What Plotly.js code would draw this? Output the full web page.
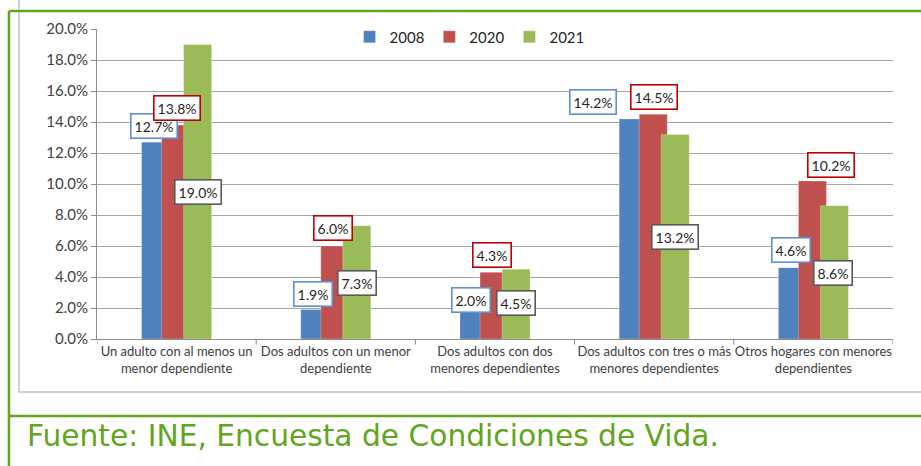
<!DOCTYPE html>
<html>
<head>
<meta charset="utf-8">
<script src="https://cdn.plot.ly/plotly-3.0.1.min.js"></script>
<style>html,body{margin:0;padding:0;background:#fff;}#chart{width:921px;height:466px;}</style>
</head>
<body>
<div id="chart"></div>
<script>
// ---- data ----
const categories = [
  "Un adulto con al menos un<br>menor dependiente",
  "Dos adultos con un menor<br>dependiente",
  "Dos adultos con dos<br>menores dependientes",
  "Dos adultos con tres o más<br>menores dependientes",
  "Otros hogares con menores<br>dependientes"
];
const seriesNames = ["2008", "2020", "2021"];
const values2008 = [12.7, 1.9, 2.0, 14.2, 4.6];
const values2020 = [13.8, 6.0, 4.3, 14.5, 10.2];
const values2021 = [19.0, 7.3, 4.5, 13.2, 8.6];
const sourceText = "Fuente: INE, Encuesta de Condiciones de Vida.";

// ---- styles / layout helpers ----
const colors = ["#4f81bd", "#c0504d", "#9bbb59"];
const labelBorders = ["#5b8fd6", "#c00000", "#595959"];
const barWidth = 0.176;
const barOffsets = [-0.22, -0.094, 0.044];
// label box placement: [dx from category center, y in axis units]
const labelPos = [
  [[-0.142, 13.74], [-0.143, 2.9], [-0.151, 2.52], [-0.384, 15.29], [-0.141, 5.74]],
  [[0.0, 14.9], [-0.018, 7.16], [-0.019, 5.42], [0.0, 15.61], [0.111, 11.23]],
  [[0.134, 9.48], [0.133, 3.61], [0.132, 2.32], [0.131, 6.58], [0.123, 4.26]]
];

const allValues = [values2008, values2020, values2021];
const idx = categories.map((_, i) => i);

const traces = allValues.map((vals, s) => ({
  type: "bar",
  name: seriesNames[s],
  x: idx,
  y: vals,
  width: idx.map(() => barWidth),
  offset: idx.map(() => barOffsets[s]),
  marker: {color: colors[s], line: {color: "rgba(255,255,255,0.5)", width: 0.5}},
  hoverinfo: "skip"
}));

const annotations = [];
allValues.forEach((vals, s) => {
  vals.forEach((v, i) => {
    annotations.push({
      x: i + labelPos[s][i][0],
      y: labelPos[s][i][1],
      xref: "x", yref: "y",
      text: v.toFixed(1) + "%",
      showarrow: false,
      bgcolor: "#ffffff",
      bordercolor: labelBorders[s],
      borderwidth: 1.6,
      borderpad: 3,
      font: {family: "Lato, 'Open Sans', sans-serif", size: 14, color: "#262626"}
    });
  });
});
annotations.push({
  x: -0.0905, y: -0.31, xref: "paper", yref: "paper",
  xanchor: "left", yanchor: "middle",
  text: sourceText, showarrow: false,
  font: {family: "'DejaVu Sans', 'Liberation Sans', sans-serif", size: 29.7, color: "#62a51e"}
});

const shapes = [
  // inner gray chart frame
  {type: "rect", xref: "paper", yref: "paper", x0: -0.098, x1: 1.06, y0: -0.171, y1: 1.1,
   line: {color: "#a6a6a6", width: 1}, layer: "below"},
  // green frame lines
  {type: "line", xref: "paper", yref: "paper", x0: -0.1106, x1: -0.1106, y0: -0.45, y1: 1.058,
   line: {color: "#62a51e", width: 2.5}},
  {type: "line", xref: "paper", yref: "paper", x0: -0.1106, x1: 1.06, y0: 1.058, y1: 1.058,
   line: {color: "#62a51e", width: 2.5}},
  {type: "line", xref: "paper", yref: "paper", x0: -0.1106, x1: 1.06, y0: -0.248, y1: -0.248,
   line: {color: "#62a51e", width: 2.5}}
];

const layout = {
  width: 921, height: 466,
  margin: {l: 97, r: 28, t: 29, b: 127, pad: 0},
  paper_bgcolor: "#ffffff", plot_bgcolor: "#ffffff",
  barmode: "overlay",
  showlegend: true,
  legend: {
    orientation: "h", x: 0.468, y: 0.974, xanchor: "center", yanchor: "middle",
    bgcolor: "#ffffff", font: {family: "Lato, 'Open Sans', sans-serif", size: 15, color: "#262626"},
    itemwidth: 30, tracegroupgap: 0, traceorder: "normal"
  },
  xaxis: {
    type: "linear", range: [-0.5, 4.5],
    tickmode: "array", tickvals: idx, ticktext: categories,
    showgrid: false, zeroline: false,
    showline: true, linecolor: "#8c8c8c", linewidth: 1,
    ticks: "",
    tickfont: {family: "Lato, 'Open Sans', sans-serif", size: 13, color: "#404040"}
  },
  yaxis: {
    range: [0, 20], dtick: 2, tick0: 0,
    tickformat: ".1f", ticksuffix: "%",
    showgrid: true, gridcolor: "#a6a6a6", gridwidth: 1,
    zeroline: false,
    showline: true, linecolor: "#8c8c8c", linewidth: 1,
    ticks: "outside", ticklen: 5, tickcolor: "#8c8c8c",
    tickfont: {family: "Lato, 'Open Sans', sans-serif", size: 15, color: "#404040"}
  },
  annotations: annotations,
  shapes: shapes
};

// category boundary tick marks on the x axis
[0, 1, 2, 3, 4, 5].forEach(b => {
  layout.shapes.push({type: "line", xref: "x", yref: "paper", x0: b - 0.5, x1: b - 0.5,
    y0: 0, y1: -0.018, line: {color: "#8c8c8c", width: 1}});
});

Plotly.newPlot("chart", traces, layout, {displayModeBar: false, staticPlot: true});
</script>
</body>
</html>
